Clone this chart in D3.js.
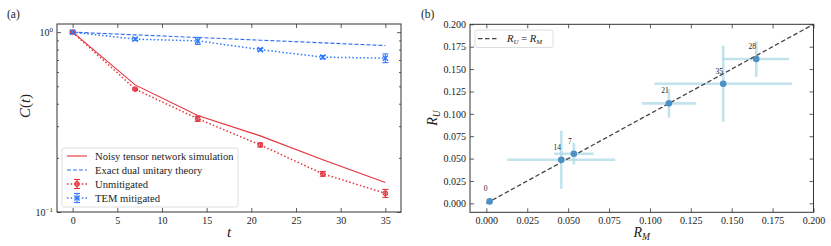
<!DOCTYPE html>
<html>
<head>
<meta charset="utf-8">
<script src="https://cdn.jsdelivr.net/npm/d3@7"></script>
<style>
  body { margin: 0; background: #fff; }
  svg { display: block; }
  text { font-family: "Liberation Serif", "DejaVu Serif", serif; fill: #222; }
</style>
</head>
<body>
<svg id="chart" width="831" height="246"></svg>
<script>
// Panel (a): correlation decay vs time
const times = [0, 7, 14, 21, 28, 35];
const noisyTN = [1.0, 0.509, 0.344, 0.265, 0.195, 0.146];
const exactDU = [1.0, 0.966, 0.934, 0.902, 0.872, 0.843];
const unmitigated = [1.0, 0.482, 0.330, 0.236, 0.163, 0.127];
const unmitigatedErr = [0.008, 0.006, 0.011, 0.006, 0.005, 0.0065];
const temMitigated = [1.0, 0.914, 0.895, 0.800, 0.726, 0.717];
const temErr = [0.018, 0.015, 0.04, 0.012, 0.015, 0.04];
const xTicksA = [0, 5, 10, 15, 20, 25, 30, 35];

// Panel (b): R_U vs R_M
const pointLabels = ["0", "7", "14", "21", "28", "35"];
const rM = [0.002, 0.0535, 0.0458, 0.1116, 0.165, 0.1448];
const rU = [0.0022, 0.0554, 0.0487, 0.1117, 0.1612, 0.1336];
const rMErr = [0.0008, 0.012, 0.033, 0.0164, 0.020, 0.042];
const rUErr = [0.0008, 0.012, 0.0325, 0.016, 0.020, 0.0425];
const ticksB = [0, 0.025, 0.05, 0.075, 0.1, 0.125, 0.15, 0.175, 0.2];

const red = "#e5323c";
const blueDash = "#2c6cf0";
const blueDot = "#2f78ff";

const svg = d3.select("#chart");

// ---------- panel (a) ----------
const boxA = { left: 57, right: 401, top: 24, bottom: 212 };
const xA = d3.scaleLinear().domain([-1.75, 36.75]).range([boxA.left, boxA.right]);
const yA = d3.scaleLog().domain([0.1, 1.11]).range([boxA.bottom, boxA.top]);

const gA = svg.append("g");

// ticks (inward, all sides)
const majorY = [0.1, 1];
const minorY = [0.2, 0.3, 0.4, 0.5, 0.6, 0.7, 0.8, 0.9];

const axB = gA.append("g")
  .attr("transform", `translate(0,${boxA.bottom})`)
  .call(d3.axisBottom(xA).tickValues(xTicksA).tickSize(-4).tickPadding(5).tickFormat(d3.format("d")));
const axT = gA.append("g")
  .attr("transform", `translate(0,${boxA.top})`)
  .call(d3.axisTop(xA).tickValues(xTicksA).tickSize(-4).tickFormat(""));
const axL = gA.append("g")
  .attr("transform", `translate(${boxA.left},0)`)
  .call(d3.axisLeft(yA).tickValues(majorY).tickSize(-4).tickPadding(4).tickFormat(""));
const axLm = gA.append("g")
  .attr("transform", `translate(${boxA.left},0)`)
  .call(d3.axisLeft(yA).tickValues(minorY).tickSize(-2).tickFormat(""));
const axR = gA.append("g")
  .attr("transform", `translate(${boxA.right},0)`)
  .call(d3.axisRight(yA).tickValues(majorY).tickSize(-4).tickFormat(""));
const axRm = gA.append("g")
  .attr("transform", `translate(${boxA.right},0)`)
  .call(d3.axisRight(yA).tickValues(minorY).tickSize(-2).tickFormat(""));

[axB, axT, axL, axLm, axR, axRm].forEach(a => {
  a.select(".domain").remove();
  a.selectAll(".tick line").attr("stroke", "#333").attr("stroke-width", 0.8);
  a.selectAll("text").attr("font-family", "Liberation Serif, serif").attr("font-size", 10).attr("fill", "#333");
});

// log tick labels 10^0, 10^-1
majorY.forEach(v => {
  const t = gA.append("text")
    .attr("x", boxA.left - 4)
    .attr("y", yA(v) + 3.5)
    .attr("text-anchor", "end")
    .attr("font-size", 10)
    .attr("fill", "#333");
  t.append("tspan").text("10");
  t.append("tspan").attr("dy", -4).attr("font-size", 7).text(v === 1 ? "0" : "\u22121");
});

// lines
const lineA = vals => d3.line()
  .x((d, i) => xA(times[i]))
  .y(d => yA(d))(vals);

gA.append("path").attr("d", lineA(noisyTN))
  .attr("fill", "none").attr("stroke", red).attr("stroke-width", 1.1);
gA.append("path").attr("d", lineA(exactDU))
  .attr("fill", "none").attr("stroke", blueDash).attr("stroke-width", 1.1)
  .attr("stroke-dasharray", "4,2");
gA.append("path").attr("d", lineA(unmitigated))
  .attr("fill", "none").attr("stroke", red).attr("stroke-width", 1.5)
  .attr("stroke-dasharray", "1.5,2.2");
gA.append("path").attr("d", lineA(temMitigated))
  .attr("fill", "none").attr("stroke", blueDot).attr("stroke-width", 1.5)
  .attr("stroke-dasharray", "1.5,2.2");

// error bars with caps
function errorBars(vals, errs, color) {
  vals.forEach((v, i) => {
    const x = xA(times[i]);
    const y0 = yA(v - errs[i]);
    const y1 = yA(v + errs[i]);
    gA.append("line").attr("x1", x).attr("x2", x).attr("y1", y0).attr("y2", y1)
      .attr("stroke", color).attr("stroke-width", 1.1);
    [y0, y1].forEach(yy => {
      gA.append("line").attr("x1", x - 3).attr("x2", x + 3).attr("y1", yy).attr("y2", yy)
        .attr("stroke", color).attr("stroke-width", 1.1);
    });
  });
}
errorBars(unmitigated, unmitigatedErr, red);
errorBars(temMitigated, temErr, blueDot);

function circleMarker(g, x, y) {
  g.append("circle").attr("cx", x).attr("cy", y).attr("r", 2.4)
    .attr("fill", red).attr("fill-opacity", 0.55).attr("stroke", red).attr("stroke-width", 1);
}
function crossMarker(g, x, y) {
  const s = 2.6;
  g.append("path").attr("d", `M${x - s},${y - s}L${x + s},${y + s}M${x - s},${y + s}L${x + s},${y - s}`)
    .attr("stroke", blueDot).attr("stroke-width", 1.4);
}
unmitigated.forEach((v, i) => circleMarker(gA, xA(times[i]), yA(v)));
temMitigated.forEach((v, i) => crossMarker(gA, xA(times[i]), yA(v)));

// spines
gA.append("rect")
  .attr("x", boxA.left).attr("y", boxA.top)
  .attr("width", boxA.right - boxA.left).attr("height", boxA.bottom - boxA.top)
  .attr("fill", "none").attr("stroke", "#333").attr("stroke-width", 1);

// legend (a)
const legA = gA.append("g");
legA.append("rect").attr("x", 62).attr("y", 148).attr("width", 176).attr("height", 59)
  .attr("rx", 2).attr("fill", "#fff").attr("fill-opacity", 0.8)
  .attr("stroke", "#d6d6d6").attr("stroke-width", 0.8);
const legItems = [
  { label: "Noisy tensor network simulation", color: red, dash: null, w: 1.1 },
  { label: "Exact dual unitary theory", color: blueDash, dash: "4,2", w: 1.1 },
  { label: "Unmitigated", color: red, dash: "1.5,2.2", w: 1.5, marker: "o" },
  { label: "TEM mitigated", color: blueDot, dash: "1.5,2.2", w: 1.5, marker: "x" }
];
legItems.forEach((d, i) => {
  const y = 156 + i * 14;
  legA.append("line").attr("x1", 67).attr("x2", 87).attr("y1", y).attr("y2", y)
    .attr("stroke", d.color).attr("stroke-width", d.w)
    .attr("stroke-dasharray", d.dash);
  if (d.marker) {
    legA.append("line").attr("x1", 77).attr("x2", 77).attr("y1", y - 4.5).attr("y2", y + 4.5)
      .attr("stroke", d.color).attr("stroke-width", 1.1);
    [y - 4.5, y + 4.5].forEach(yy => legA.append("line")
      .attr("x1", 74).attr("x2", 80).attr("y1", yy).attr("y2", yy)
      .attr("stroke", d.color).attr("stroke-width", 1.1));
    if (d.marker === "o") circleMarker(legA, 77, y);
    else crossMarker(legA, 77, y);
  }
  legA.append("text").attr("x", 95).attr("y", y + 3.5)
    .attr("font-size", 10.6).text(d.label);
});

// axis labels (a)
gA.append("text").attr("x", (boxA.left + boxA.right) / 2).attr("y", 237)
  .attr("text-anchor", "middle").attr("font-size", 15).attr("font-style", "italic").text("t");
gA.append("text").attr("transform", "translate(30,106) rotate(-90)")
  .attr("text-anchor", "middle").attr("font-size", 15)
  .html('<tspan font-style="italic">C</tspan>(<tspan font-style="italic">t</tspan>)');
gA.append("text").attr("x", 7).attr("y", 18).attr("font-size", 11.5).text("(a)");

// ---------- panel (b) ----------
const boxB = { left: 470, right: 813.5, top: 24.3, bottom: 212.3 };
const xB = d3.scaleLinear().domain([-0.01, 0.2]).range([boxB.left, boxB.right]);
const yB = d3.scaleLinear().domain([-0.01, 0.2]).range([boxB.bottom, boxB.top]);
const gB = svg.append("g");

const fmt = d3.format(".3f");
const bB = gB.append("g").attr("transform", `translate(0,${boxB.bottom})`)
  .call(d3.axisBottom(xB).tickValues(ticksB).tickSize(-4).tickPadding(5).tickFormat(fmt));
const bT = gB.append("g").attr("transform", `translate(0,${boxB.top})`)
  .call(d3.axisTop(xB).tickValues(ticksB).tickSize(-4).tickFormat(""));
const bL = gB.append("g").attr("transform", `translate(${boxB.left},0)`)
  .call(d3.axisLeft(yB).tickValues(ticksB).tickSize(-4).tickPadding(4).tickFormat(fmt));
const bR = gB.append("g").attr("transform", `translate(${boxB.right},0)`)
  .call(d3.axisRight(yB).tickValues(ticksB).tickSize(-4).tickFormat(""));
[bB, bT, bL, bR].forEach(a => {
  a.select(".domain").remove();
  a.selectAll(".tick line").attr("stroke", "#333").attr("stroke-width", 0.8);
  a.selectAll("text").attr("font-family", "Liberation Serif, serif").attr("font-size", 10).attr("fill", "#333");
});

// error bars (b)
const errColor = "#add8e6";
rM.forEach((m, i) => {
  gB.append("line").attr("x1", xB(m - rMErr[i])).attr("x2", xB(m + rMErr[i]))
    .attr("y1", yB(rU[i])).attr("y2", yB(rU[i]))
    .attr("stroke", errColor).attr("stroke-opacity", 0.75).attr("stroke-width", 2.6);
  gB.append("line").attr("x1", xB(m)).attr("x2", xB(m))
    .attr("y1", yB(rU[i] - rUErr[i])).attr("y2", yB(rU[i] + rUErr[i]))
    .attr("stroke", errColor).attr("stroke-opacity", 0.75).attr("stroke-width", 2.6);
});

// y = x reference line
gB.append("line").attr("x1", xB(0)).attr("y1", yB(0)).attr("x2", xB(0.2)).attr("y2", yB(0.2))
  .attr("stroke", "#444").attr("stroke-width", 1.3).attr("stroke-dasharray", "4.5,2.5");

// points and labels
rM.forEach((m, i) => {
  gB.append("circle").attr("cx", xB(m)).attr("cy", yB(rU[i])).attr("r", 3.3)
    .attr("fill", "#4c90c6");
  gB.append("text").attr("x", xB(m) - 4).attr("y", yB(rU[i]) - 10)
    .attr("text-anchor", "middle").attr("font-size", 7.5).attr("fill", "#333").text(pointLabels[i]);
});

gB.append("rect")
  .attr("x", boxB.left).attr("y", boxB.top)
  .attr("width", boxB.right - boxB.left).attr("height", boxB.bottom - boxB.top)
  .attr("fill", "none").attr("stroke", "#333").attr("stroke-width", 1);

// legend (b)
gB.append("rect").attr("x", 475).attr("y", 30).attr("width", 78).attr("height", 17.5)
  .attr("rx", 2).attr("fill", "#fff").attr("fill-opacity", 0.8)
  .attr("stroke", "#d6d6d6").attr("stroke-width", 0.8);
gB.append("line").attr("x1", 478).attr("x2", 498).attr("y1", 38.7).attr("y2", 38.7)
  .attr("stroke", "#444").attr("stroke-width", 1.3).attr("stroke-dasharray", "4.5,2.5");
gB.append("text").attr("x", 507).attr("y", 42.3).attr("font-size", 10.6)
  .html('<tspan font-style="italic">R</tspan><tspan font-size="7" font-style="italic" dy="2">U</tspan>' +
        '<tspan dy="-2"> = </tspan><tspan font-style="italic">R</tspan><tspan font-size="7" font-style="italic" dy="2">M</tspan>');

// axis labels (b)
gB.append("text").attr("x", (boxB.left + boxB.right) / 2).attr("y", 237)
  .attr("text-anchor", "middle").attr("font-size", 14)
  .html('<tspan font-style="italic">R</tspan><tspan font-size="9.5" font-style="italic" dy="2.5">M</tspan>');
gB.append("text").attr("transform", "translate(437,118) rotate(-90)")
  .attr("text-anchor", "middle").attr("font-size", 14)
  .html('<tspan font-style="italic">R</tspan><tspan font-size="9.5" font-style="italic" dy="2.5">U</tspan>');
gB.append("text").attr("x", 421).attr("y", 18).attr("font-size", 11.5).text("(b)");
</script>
</body>
</html>
